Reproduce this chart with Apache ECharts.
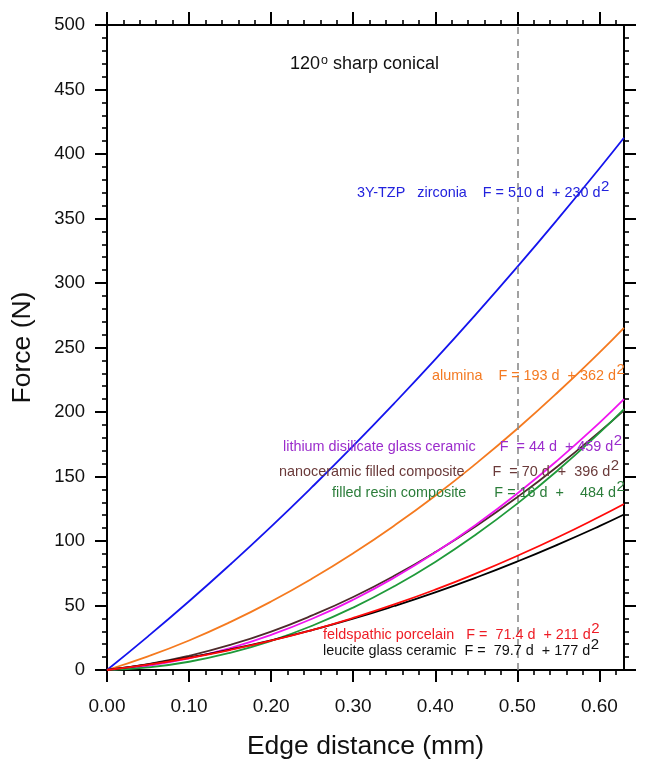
<!DOCTYPE html>
<html>
<head>
<meta charset="utf-8">
<script src="https://cdn.jsdelivr.net/npm/echarts@6/dist/echarts.min.js"></script>
<style>
html,body{margin:0;padding:0;background:#fff;}
#chart{width:649px;height:778px;}
</style>
</head>
<body>
<div id="chart"></div>
<script>
// ---- data ----
var edgeDistance = [0, 0.05, 0.10, 0.15, 0.20, 0.25, 0.30, 0.35, 0.40, 0.45, 0.50, 0.55, 0.60, 0.63];
var zirconia     = [0, 26.1, 53.3, 81.7, 111.2, 141.9, 173.7, 206.7, 240.8, 276.1, 312.5, 350.1, 388.8, 412.6];
var alumina      = [0, 10.6, 22.9, 37.1, 53.1, 70.9, 90.5, 111.9, 135.1, 160.2, 187.0, 215.7, 246.1, 265.3];
var lithiumDisilicate = [0, 3.3, 9.0, 16.9, 27.2, 39.7, 54.5, 71.6, 91.0, 112.8, 136.8, 163.1, 191.6, 209.9];
var nanoceramic  = [0, 4.5, 11.0, 19.4, 29.8, 42.3, 56.6, 73.0, 91.4, 111.7, 134.0, 158.3, 184.6, 201.3];
var filledResin  = [0, 2.0, 6.4, 13.3, 22.6, 34.3, 48.4, 64.9, 83.8, 105.2, 129.0, 155.2, 183.8, 202.2];
var feldspathic  = [0, 4.1, 9.3, 15.5, 22.7, 31.0, 40.4, 50.8, 62.3, 74.9, 88.5, 103.1, 118.8, 128.7];
var leucite      = [0, 4.4, 9.7, 15.9, 23.0, 31.0, 39.8, 49.6, 60.2, 71.7, 84.1, 97.4, 111.5, 120.5];

var xMajorTicks = [0, 0.1, 0.2, 0.3, 0.4, 0.5, 0.6];
var xMinorTicks = [0.02, 0.04, 0.06, 0.08, 0.12, 0.14, 0.16, 0.18, 0.22, 0.24, 0.26, 0.28,
                   0.32, 0.34, 0.36, 0.38, 0.42, 0.44, 0.46, 0.48, 0.52, 0.54, 0.56, 0.58, 0.62];
var yMajorTicks = [0, 50, 100, 150, 200, 250, 300, 350, 400, 450, 500];
var yMinorTicks = [10, 20, 30, 40, 60, 70, 80, 90, 110, 120, 130, 140, 160, 170, 180, 190,
                   210, 220, 230, 240, 260, 270, 280, 290, 310, 320, 330, 340, 360, 370, 380, 390,
                   410, 420, 430, 440, 460, 470, 480, 490];
var dashedLineX = 0.5;

var xTitle = 'Edge distance (mm)';
var yTitle = 'Force (N)';
var chartNote = ['120', 'o', ' sharp conical'];

// label texts: [main text, superscript, text color, left x, center y]
var labelTexts = [
  ['3Y-TZP   zirconia    F = 510 d  + 230 d', '2', '#2222dd', 357, 193],
  ['alumina    F = 193 d  + 362 d', '2', '#f47a22', 432, 376],
  ['lithium disilicate glass ceramic      F  = 44 d  + 459 d', '2', '#9b2ccc', 283, 447],
  ['nanoceramic filled composite       F  = 70 d  +  396 d', '2', '#6a3a3a', 279, 472],
  ['filled resin composite       F = 16 d  +    484 d', '2', '#2b7d3a', 332, 493],
  ['feldspathic porcelain   F =  71.4 d  + 211 d', '2', '#ee1c25', 323, 635],
  ['leucite glass ceramic  F =  79.7 d  + 177 d', '2', '#111111', 323, 651]
];

var FONT = "'Liberation Sans', Arial, Helvetica, sans-serif";

var measureCtx = document.createElement('canvas').getContext('2d');
function textWidth(str, size) {
  measureCtx.font = size + 'px ' + FONT;
  return measureCtx.measureText(str).width;
}

function pairs(ys) {
  return edgeDistance.map(function (x, i) { return [x, ys[i]]; });
}

var seriesDefs = [
  ['3Y-TZP zirconia', zirconia, '#1414ee'],
  ['alumina', alumina, '#f57a1f'],
  ['nanoceramic filled composite', nanoceramic, '#4d2b2b'],
  ['lithium disilicate glass ceramic', lithiumDisilicate, '#f014f0'],
  ['filled resin composite', filledResin, '#1f9a3a'],
  ['leucite glass ceramic', leucite, '#000000'],
  ['feldspathic porcelain', feldspathic, '#ff0a0a']
];

var series = seriesDefs.map(function (d, i) {
  var s = {
    name: d[0], type: 'line', data: pairs(d[1]), smooth: true, showSymbol: false,
    symbol: 'none', xAxisIndex: 0, yAxisIndex: 0,
    lineStyle: { color: d[2], width: 1.8 }, itemStyle: { color: d[2] },
    z: 3 + i
  };
  if (i === 0) {
    s.markLine = {
      silent: true, symbol: 'none', animation: false,
      label: { show: false },
      lineStyle: { color: '#8a8a8a', type: [7, 5], width: 1.6 },
      data: [{ xAxis: dashedLineX }]
    };
  }
  return s;
});

function axisDef(kind, pos, ticks, len, withLabels, lineShow, name) {
  var isX = kind === 'x';
  var a = {
    type: 'value', position: pos,
    min: 0, max: isX ? 0.63 : 500,
    axisLine: { show: lineShow, onZero: false, lineStyle: { color: '#000', width: 2 } },
    axisTick: { show: true, inside: false, length: len, customValues: ticks,
                lineStyle: { color: '#000', width: len > 8 ? 2 : 1.6 } },
    axisLabel: { show: false },
    splitLine: { show: false },
    minorTick: { show: false }
  };
  if (withLabels) {
    a.axisLabel = {
      show: true, customValues: isX ? xMajorTicks : yMajorTicks,
      margin: isX ? 27 : 22, fontSize: isX ? 19 : 18.5, color: '#111', fontFamily: FONT,
      formatter: function (v) { return isX ? v.toFixed(2) : String(v); }
    };
  }
  if (name) {
    a.name = name;
    a.nameLocation = 'middle';
    a.nameGap = isX ? 63 : 71;
    a.nameTextStyle = { fontSize: 26.5, color: '#111', fontFamily: FONT };
  }
  return a;
}

var xAxes = [
  axisDef('x', 'bottom', xMajorTicks, 12, true, true, xTitle),
  axisDef('x', 'bottom', xMinorTicks, 5, false, false),
  axisDef('x', 'top', xMajorTicks, 13, false, true),
  axisDef('x', 'top', xMinorTicks, 5, false, false)
];
var yAxes = [
  axisDef('y', 'left', yMajorTicks, 12, true, true, yTitle),
  axisDef('y', 'left', yMinorTicks, 5, false, false),
  axisDef('y', 'right', yMajorTicks, 12, false, true),
  axisDef('y', 'right', yMinorTicks, 5, false, false)
];

function textEl(str, x, y, size, color) {
  return {
    type: 'text', x: x, y: y, silent: true, z: 50,
    style: { text: str, align: 'left', verticalAlign: 'middle',
             font: size + 'px ' + FONT, fill: color }
  };
}

var MAIN_SIZE = 14.4, SUP_SIZE = 15;
var graphics = [];
labelTexts.forEach(function (t) {
  graphics.push(textEl(t[0], t[3], t[4], MAIN_SIZE, t[2]));
  var w = textWidth(t[0], MAIN_SIZE);
  graphics.push(textEl(t[1], t[3] + w + 0.5, t[4] - 6, SUP_SIZE, t[2]));
});
// note "120° sharp conical"
var noteX = 290, noteY = 64, NOTE_SIZE = 18;
graphics.push(textEl(chartNote[0], noteX, noteY, NOTE_SIZE, '#111'));
var w1 = textWidth(chartNote[0], NOTE_SIZE);
graphics.push(textEl(chartNote[1], noteX + w1 + 1, noteY - 3.5, 12.5, '#111'));
var w2 = textWidth(chartNote[1], 12.5);
graphics.push(textEl(chartNote[2], noteX + w1 + 1 + w2, noteY, NOTE_SIZE, '#111'));

var chart = echarts.init(document.getElementById('chart'), null, { renderer: 'canvas' });
chart.setOption({
  animation: false,
  backgroundColor: '#ffffff',
  grid: { left: 107, right: 25, top: 25, bottom: 108, containLabel: false },
  xAxis: xAxes,
  yAxis: yAxes,
  series: series,
  graphic: graphics
});
</script>
</body>
</html>
